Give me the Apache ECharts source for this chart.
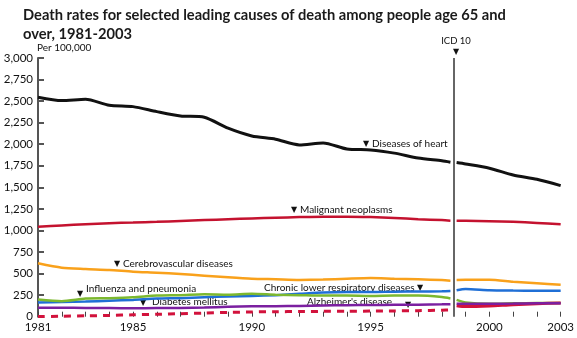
<!DOCTYPE html>
<html><head><meta charset="utf-8">
<script src="https://cdn.jsdelivr.net/npm/echarts@6/dist/echarts.min.js"></script>
<style>html,body{margin:0;padding:0;background:#fff}#c{width:577px;height:338px}</style>
</head><body><div id="c"></div>
<script>
// ---- data ----
const titleText = "Death rates for selected leading causes of death among people age 65 and\nover, 1981-2003";
const unitLabel = "Per 100,000";
const icdLabel = "ICD 10";
const icdYear = 1998.5;
const xLabelYears = [1981, 1985, 1990, 1995, 2000, 2003];
// ICD-9 period (last point = where the drawn line stops before the ICD-10 break)
const preYears  = [1981,1982,1983,1984,1985,1986,1987,1988,1989,1990,1991,1992,1993,1994,1995,1996,1997,1998,1998.36];
// ICD-10 period (first point = where the drawn line resumes after the break)
const postYears = [1998.62,1999,2000,2001,2002,2003];

const heartPre   = [2545,2506,2522,2452,2436,2378,2328,2313,2186,2096,2058,1992,2015,1945,1934,1897,1840,1808,1792];
const heartPost  = [1787,1771,1722,1644,1594,1520];
const cancerPre  = [1044,1058,1072,1085,1092,1100,1110,1120,1130,1140,1148,1155,1160,1160,1155,1145,1130,1120,1114];
const cancerPost = [1114,1112,1107,1100,1088,1072];
const cerebroPre = [619,568,553,542,522,510,495,476,457,441,434,426,430,440,448,440,434,425,418];
const cerebroPost= [426,428,428,405,388,370];
const clrdPre    = [165,170,175,185,195,210,215,225,235,240,250,265,280,285,285,290,292,295,298];
const clrdPost   = [306,320,306,303,302,302];
const fluPre     = [200,180,210,215,225,245,250,260,255,265,255,250,245,245,240,245,245,228,212];
const fluPost    = [195,165,150,155,160,160];
const alzPre     = [2,5,10,15,22,28,35,42,50,55,58,60,62,63,65,67,70,75,78];
const alzPost    = [128,118,125,140,150,160];
const diabPre    = [105,103,102,100,98,100,102,107,115,120,122,125,130,133,136,138,140,143,145];
const diabPost   = [150,150,150,152,155,155];

const names = ["Diseases of heart","Malignant neoplasms","Cerebrovascular diseases","Chronic lower respiratory diseases","Influenza and pneumonia","Alzheimer's disease","Diabetes mellitus"];

// ---- chart ----
const chart = echarts.init(document.getElementById('c'));
const FONT = 'Lato';
function pair(xs, vs){ return xs.map((x,i)=>[x, vs[i]]); }
function line(name, xs, vs, color, width, dashed, extra){
  return Object.assign({
    type:'line', name, data: pair(xs, vs), showSymbol:false, smooth:0.25,
    lineStyle:{color, width, type: dashed ? [7,6] : 'solid', cap:'butt'},
    itemStyle:{color}, emphasis:{disabled:true}, silent:true
  }, extra||{});
}
const styles = [
  ['#111111',3,false,heartPre,heartPost],
  ['#c4122f',2.5,false,cancerPre,cancerPost],
  ['#f9a11b',2.5,false,cerebroPre,cerebroPost],
  ['#1f6fd6',2.5,false,clrdPre,clrdPost],
  ['#7cb82f',2.5,false,fluPre,fluPost],
  ['#d2123c',3,true,alzPre,alzPost],
  ['#7b1fa0',2.5,false,diabPre,diabPost]
];
const series = [];
styles.forEach((s,i)=>{
  series.push(line(names[i], preYears, s[3], s[0], s[1], s[2]));
  series.push(line(names[i], postYears, s[4], s[0], s[1], false));
});
series[0].markLine = {
  silent:true, symbol:'none', label:{show:false},
  lineStyle:{color:'#666', width:2, type:'solid'},
  data:[{xAxis: icdYear}]
};

const T = (x,y,text,opt)=>Object.assign({type:'text', x, y, style:Object.assign({text, fill:'#111', font:'10px '+FONT, verticalAlign:'middle', align:'left'}, opt||{})});
const TRI = (x,y)=>T(x,y,'\u25BC',{align:'center', font:'8px DejaVu Sans'});

chart.setOption({
  animation:false,
  title:{text:titleText, left:18, top:1, textStyle:{fontFamily:FONT, fontWeight:'bold', fontSize:14.7, color:'#1a1a1a', lineHeight:19}},
  grid:{left:38, right:14, top:58, bottom:21.3, containLabel:false},
  xAxis:{type:'value', min:1981, max:2003, interval:1,
    axisLine:{show:false},
    axisTick:{show:true, inside:true, length:5, lineStyle:{color:'#444', width:1}},
    splitLine:{show:false},
    axisLabel:{fontFamily:FONT, fontSize:11.5, color:'#111', margin:5,
      formatter:v=> xLabelYears.indexOf(v)>=0 ? String(v) : ''}
  },
  yAxis:{type:'value', min:0, max:3000, interval:250,
    axisLine:{show:true, lineStyle:{color:'#555', width:2}},
    axisTick:{show:true, inside:true, length:6, lineStyle:{color:'#555', width:2}},
    splitLine:{show:false},
    axisLabel:{fontFamily:FONT, fontSize:11.5, color:'#111', margin:5,
      formatter:v=>v.toLocaleString('en-US')}
  },
  series,
  graphic:[
    T(37,48,unitLabel,{font:'10px '+FONT}),
    T(456,41,icdLabel,{align:'center', font:'9.5px '+FONT}),
    TRI(456,52),
    TRI(366,144), T(372,144,names[0]),
    TRI(294,210), T(300,210,names[1]),
    TRI(117,264), T(123,264,names[2]),
    TRI(80,294),  T(86,289,names[4]),
    TRI(143,303), T(152,302,names[6]),
    T(264,288,names[3]), TRI(420,288),
    T(307,302,names[5]), TRI(408,305)
  ]
});
</script></body></html>
